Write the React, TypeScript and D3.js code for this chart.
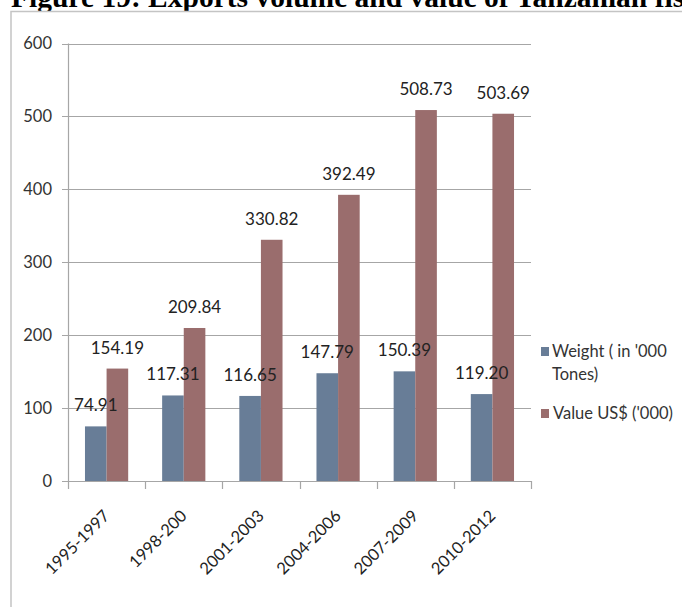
import { useEffect, useRef } from 'react';
import * as d3 from 'd3';

const periods = ['1995-1997', '1998-200', '2001-2003', '2004-2006', '2007-2009', '2010-2012'];
const weightValues = [74.91, 117.31, 116.65, 147.79, 150.39, 119.2];
const valueValues = [154.19, 209.84, 330.82, 392.49, 508.73, 503.69];
const seriesNames = ['weight', 'value'];
const yTicks = [0, 100, 200, 300, 400, 500, 600];

const colors: Record<string, string> = { weight: '#687d97', value: '#9a6d6d' };
const font = 'Lato, "Liberation Sans", sans-serif';

export default function App() {
  const svgRef = useRef<SVGSVGElement>(null);
  const width = 682;
  const height = 607;

  useEffect(() => {
    if (!svgRef.current) return;
    const svg = d3.select(svgRef.current);
    svg.selectAll('*').remove();

    // title (cut off at the top, as in the source scan)
    svg.append('text')
      .attr('x', 11)
      .attr('y', 7)
      .attr('font-family', '"Liberation Serif", "Times New Roman", serif')
      .attr('font-weight', 'bold')
      .attr('font-size', 29.5)
      .attr('fill', '#000')
      .text('Figure 19: Exports volume and value of Tanzanian fish');

    // chart frame
    svg.append('rect')
      .attr('x', 11)
      .attr('y', 11.5)
      .attr('width', 700)
      .attr('height', 620)
      .attr('fill', '#fff')
      .attr('stroke', '#c4c4c4')
      .attr('stroke-width', 1.5);

    const x = d3.scaleBand<string>().domain(periods).range([68, 531]).padding(0);
    const bw = x.bandwidth();
    const xInner = d3.scaleBand<string>().domain(seriesNames).range([bw * 0.22, bw * 0.78]).padding(0);
    const y = d3.scaleLinear().domain([0, 600]).range([481, 43.5]);

    // gridlines + y ticks
    const g = svg.append('g');
    g.selectAll('line.grid')
      .data(yTicks)
      .join('line')
      .attr('class', 'grid')
      .attr('x1', 62)
      .attr('x2', 531)
      .attr('y1', d => Math.round(y(d)) + 0.5)
      .attr('y2', d => Math.round(y(d)) + 0.5)
      .attr('stroke', '#a6a6a6')
      .attr('stroke-width', 1.2);

    g.selectAll('text.ytick')
      .data(yTicks)
      .join('text')
      .attr('class', 'ytick')
      .attr('x', 52)
      .attr('y', d => y(d))
      .attr('dy', '0.36em')
      .attr('text-anchor', 'end')
      .attr('font-family', font)
      .attr('font-size', 16.5)
      .attr('fill', '#333')
      .text(d => d);

    // y axis line
    g.append('line')
      .attr('x1', 68.5).attr('x2', 68.5)
      .attr('y1', y(600)).attr('y2', y(0))
      .attr('stroke', '#a6a6a6').attr('stroke-width', 1.2);

    // x ticks at band edges
    const edges = periods.map(p => x(p) as number).concat([531]);
    g.selectAll('line.xtick')
      .data(edges)
      .join('line')
      .attr('class', 'xtick')
      .attr('x1', d => Math.round(d) + 0.5)
      .attr('x2', d => Math.round(d) + 0.5)
      .attr('y1', y(0))
      .attr('y2', y(0) + 8)
      .attr('stroke', '#a6a6a6')
      .attr('stroke-width', 1.2);

    // bars
    const rows = periods.map((p, i) => ({ period: p, weight: weightValues[i], value: valueValues[i] }));
    const groups = svg.selectAll('g.period')
      .data(rows)
      .join('g')
      .attr('class', 'period')
      .attr('transform', d => `translate(${x(d.period)},0)`);

    groups.selectAll('rect')
      .data(d => seriesNames.map(k => ({ key: k, v: (d as any)[k] as number })))
      .join('rect')
      .attr('x', d => xInner(d.key) as number)
      .attr('width', xInner.bandwidth())
      .attr('y', d => y(d.v))
      .attr('height', d => y(0) - y(d.v))
      .attr('fill', d => colors[d.key]);

    groups.selectAll('text')
      .data(d => seriesNames.map(k => ({ key: k, v: (d as any)[k] as number })))
      .join('text')
      .attr('x', d => (xInner(d.key) as number) + xInner.bandwidth() / 2)
      .attr('y', d => y(d.v) - 15)
      .attr('text-anchor', 'middle')
      .attr('font-family', font)
      .attr('font-size', 17)
      .attr('fill', '#222')
      .text(d => d.v.toFixed(2));

    // rotated category labels
    svg.selectAll('text.xlab')
      .data(periods)
      .join('text')
      .attr('class', 'xlab')
      .attr('text-anchor', 'end')
      .attr('font-family', font)
      .attr('font-size', 16.5)
      .attr('fill', '#222')
      .attr('transform', d => `translate(${(x(d) as number) + bw / 2 + 4},517) rotate(-45)`)
      .text(d => d);

    // legend
    const legend = svg.append('g').attr('font-family', font).attr('font-size', 16.5).attr('fill', '#333');
    legend.append('rect').attr('x', 541).attr('y', 347).attr('width', 8).attr('height', 9).attr('fill', colors.weight);
    legend.append('text').attr('x', 552).attr('y', 357).text("Weight ( in '000");
    legend.append('text').attr('x', 552).attr('y', 380).text('Tones)');
    legend.append('rect').attr('x', 541).attr('y', 409).attr('width', 8).attr('height', 9).attr('fill', colors.value);
    legend.append('text').attr('x', 553).attr('y', 419).text("Value US$ ('000)");
  }, []);

  return (
    <svg
      ref={svgRef}
      width={width}
      height={height}
      style={{ position: 'absolute', left: 0, top: 0, background: '#fff' }}
    />
  );
}
